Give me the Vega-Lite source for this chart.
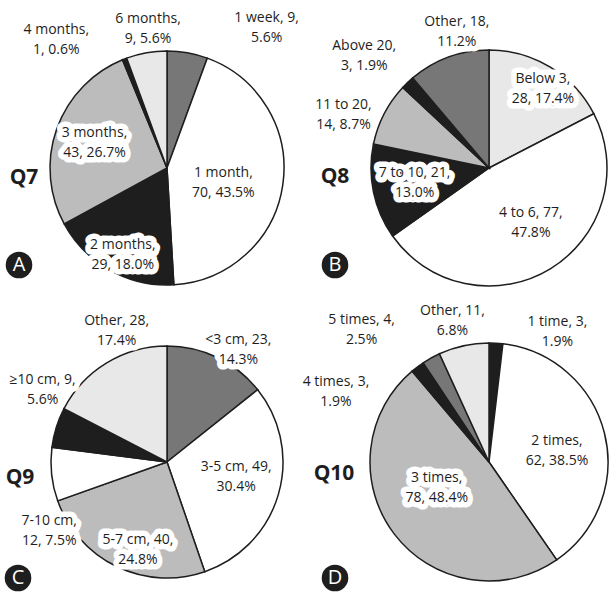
{
  "$schema": "https://vega.github.io/schema/vega-lite/v6.json",
  "padding": 0,
  "background": "white",
  "columns": 2,
  "spacing": {"row": 0, "column": 30},
  "bounds": "flush",
  "align": "each",
  "resolve": {"scale": {"fill": "independent", "theta": "independent"}},
  "config": {
    "view": {"stroke": null},
    "text": {"font": "Open Sans", "fontSize": 14, "lineHeight": 20, "align": "center", "baseline": "middle"}
  },
  "concat": [
    {
      "width": 334, "height": 336,
      "layer": [
        {
          "data": {"values": [
            {"q": "Q7", "idx": 1, "cat": "1 week", "n": 9, "pct": 5.6, "lab": ["1 week, 9,", "5.6%"]},
            {"q": "Q7", "idx": 2, "cat": "1 month", "n": 70, "pct": 43.5, "lab": ["1 month,", "70, 43.5%"]},
            {"q": "Q7", "idx": 3, "cat": "2 months", "n": 29, "pct": 18.0, "lab": ["2 months,", "29, 18.0%"]},
            {"q": "Q7", "idx": 4, "cat": "3 months", "n": 43, "pct": 26.7, "lab": ["3 months,", "43, 26.7%"]},
            {"q": "Q7", "idx": 5, "cat": "4 months", "n": 1, "pct": 0.6, "lab": ["4 months,", "1, 0.6%"]},
            {"q": "Q7", "idx": 6, "cat": "6 months", "n": 9, "pct": 5.6, "lab": ["6 months,", "9, 5.6%"]}
          ]},
          "encoding": {
            "theta": {"field": "n", "type": "quantitative", "stack": true},
            "order": {"field": "idx", "type": "quantitative"}
          },
          "layer": [
            {"mark": {"type": "arc", "outerRadius": 117, "stroke": "#1e1e1e", "strokeWidth": 1.5},
             "encoding": {"fill": {"field": "cat", "type": "nominal", "legend": null,
               "scale": {"domain": ["1 week", "1 month", "2 months", "3 months", "4 months", "6 months"],
                         "range": ["#777777", "#ffffff", "#1e1e1e", "#bcbcbc", "#1e1e1e", "#e8e8e8"]}}}},
            {"mark": {"type": "text", "radius": 175, "dx": 69, "dy": 22, "fill": "#fff", "stroke": "#fff", "strokeWidth": 11, "strokeJoin": "round"}, "encoding": {"text": {"condition": {"test": "datum.idx === 1", "field": "lab"}, "value": ""}}},
            {"mark": {"type": "text", "radius": 58, "dx": -1, "dy": -3, "fill": "#fff", "stroke": "#fff", "strokeWidth": 11, "strokeJoin": "round"}, "encoding": {"text": {"condition": {"test": "datum.idx === 2", "field": "lab"}, "value": ""}}},
            {"mark": {"type": "text", "radius": 95, "dx": 2, "dy": -6, "fill": "#fff", "stroke": "#fff", "strokeWidth": 11, "strokeJoin": "round"}, "encoding": {"text": {"condition": {"test": "datum.idx === 3", "field": "lab"}, "value": ""}}},
            {"mark": {"type": "text", "radius": 78, "dx": 1, "dy": -9, "fill": "#fff", "stroke": "#fff", "strokeWidth": 11, "strokeJoin": "round"}, "encoding": {"text": {"condition": {"test": "datum.idx === 4", "field": "lab"}, "value": ""}}},
            {"mark": {"type": "text", "radius": 60, "dx": -89, "dy": -82, "fill": "#fff", "stroke": "#fff", "strokeWidth": 11, "strokeJoin": "round"}, "encoding": {"text": {"condition": {"test": "datum.idx === 5", "field": "lab"}, "value": ""}}},
            {"mark": {"type": "text", "radius": 143, "dx": 6, "dy": -8, "fill": "#fff", "stroke": "#fff", "strokeWidth": 11, "strokeJoin": "round"}, "encoding": {"text": {"condition": {"test": "datum.idx === 6", "field": "lab"}, "value": ""}}},
            {"mark": {"type": "text", "radius": 175, "dx": 69, "dy": 22, "fill": "#1e1e1e"}, "encoding": {"text": {"condition": {"test": "datum.idx === 1", "field": "lab"}, "value": ""}}},
            {"mark": {"type": "text", "radius": 58, "dx": -1, "dy": -3, "fill": "#1e1e1e"}, "encoding": {"text": {"condition": {"test": "datum.idx === 2", "field": "lab"}, "value": ""}}},
            {"mark": {"type": "text", "radius": 95, "dx": 2, "dy": -6, "fill": "#1e1e1e"}, "encoding": {"text": {"condition": {"test": "datum.idx === 3", "field": "lab"}, "value": ""}}},
            {"mark": {"type": "text", "radius": 78, "dx": 1, "dy": -9, "fill": "#1e1e1e"}, "encoding": {"text": {"condition": {"test": "datum.idx === 4", "field": "lab"}, "value": ""}}},
            {"mark": {"type": "text", "radius": 60, "dx": -89, "dy": -82, "fill": "#1e1e1e"}, "encoding": {"text": {"condition": {"test": "datum.idx === 5", "field": "lab"}, "value": ""}}},
            {"mark": {"type": "text", "radius": 143, "dx": 6, "dy": -8, "fill": "#1e1e1e"}, "encoding": {"text": {"condition": {"test": "datum.idx === 6", "field": "lab"}, "value": ""}}},
            {"mark": {"type": "text", "dx": -143, "dy": 10, "fontSize": 21, "fontWeight": "bold", "fill": "#1e1e1e"}, "encoding": {"text": {"condition": {"test": "datum.idx === 1", "field": "q"}, "value": ""}}}
          ]
        },
        {"data": {"values": [{"panel": "A"}]}, "mark": {"type": "point", "shape": "circle", "filled": true, "size": 707, "fill": "#1e1e1e", "opacity": 1, "xOffset": -148, "yOffset": 97}, "encoding": {}},
        {"data": {"values": [{"panel": "A"}]}, "mark": {"type": "text", "dx": -148, "dy": 97, "fontSize": 20, "fill": "#ffffff"}, "encoding": {"text": {"field": "panel"}}}
      ]
    },
    {
      "width": 250, "height": 336,
      "layer": [
        {
          "data": {"values": [
            {"q": "Q8", "idx": 1, "cat": "Below 3", "n": 28, "pct": 17.4, "lab": ["Below 3,", "28, 17.4%"]},
            {"q": "Q8", "idx": 2, "cat": "4 to 6", "n": 77, "pct": 47.8, "lab": ["4 to 6, 77,", "47.8%"]},
            {"q": "Q8", "idx": 3, "cat": "7 to 10", "n": 21, "pct": 13.0, "lab": ["7 to 10, 21,", "13.0%"]},
            {"q": "Q8", "idx": 4, "cat": "11 to 20", "n": 14, "pct": 8.7, "lab": ["11 to 20,", "14, 8.7%"]},
            {"q": "Q8", "idx": 5, "cat": "Above 20", "n": 3, "pct": 1.9, "lab": ["Above 20,", "3, 1.9%"]},
            {"q": "Q8", "idx": 6, "cat": "Other", "n": 18, "pct": 11.2, "lab": ["Other, 18,", "11.2%"]}
          ]},
          "encoding": {
            "theta": {"field": "n", "type": "quantitative", "stack": true},
            "order": {"field": "idx", "type": "quantitative"}
          },
          "layer": [
            {"mark": {"type": "arc", "outerRadius": 118, "stroke": "#1e1e1e", "strokeWidth": 1.5},
             "encoding": {"fill": {"field": "cat", "type": "nominal", "legend": null,
               "scale": {"domain": ["Below 3", "4 to 6", "7 to 10", "11 to 20", "Above 20", "Other"],
                         "range": ["#e8e8e8", "#ffffff", "#1e1e1e", "#bcbcbc", "#1e1e1e", "#777777"]}}}},
            {"mark": {"type": "text", "radius": 98, "dx": 3, "dy": -5, "fill": "#fff", "stroke": "#fff", "strokeWidth": 11, "strokeJoin": "round"}, "encoding": {"text": {"condition": {"test": "datum.idx === 1", "field": "lab"}, "value": ""}}},
            {"mark": {"type": "text", "radius": 67, "dx": 7, "dy": -12, "fill": "#fff", "stroke": "#fff", "strokeWidth": 11, "strokeJoin": "round"}, "encoding": {"text": {"condition": {"test": "datum.idx === 2", "field": "lab"}, "value": ""}}},
            {"mark": {"type": "text", "radius": 75, "dx": -1, "dy": -10, "fill": "#fff", "stroke": "#fff", "strokeWidth": 11, "strokeJoin": "round"}, "encoding": {"text": {"condition": {"test": "datum.idx === 3", "field": "lab"}, "value": ""}}},
            {"mark": {"type": "text", "radius": 156, "dx": -7, "dy": 9, "fill": "#fff", "stroke": "#fff", "strokeWidth": 11, "strokeJoin": "round"}, "encoding": {"text": {"condition": {"test": "datum.idx === 4", "field": "lab"}, "value": ""}}},
            {"mark": {"type": "text", "radius": 120, "dx": -42, "dy": -35, "fill": "#fff", "stroke": "#fff", "strokeWidth": 11, "strokeJoin": "round"}, "encoding": {"text": {"condition": {"test": "datum.idx === 5", "field": "lab"}, "value": ""}}},
            {"mark": {"type": "text", "radius": 143, "dx": 17, "dy": -12, "fill": "#fff", "stroke": "#fff", "strokeWidth": 11, "strokeJoin": "round"}, "encoding": {"text": {"condition": {"test": "datum.idx === 6", "field": "lab"}, "value": ""}}},
            {"mark": {"type": "text", "radius": 98, "dx": 3, "dy": -5, "fill": "#1e1e1e"}, "encoding": {"text": {"condition": {"test": "datum.idx === 1", "field": "lab"}, "value": ""}}},
            {"mark": {"type": "text", "radius": 67, "dx": 7, "dy": -12, "fill": "#1e1e1e"}, "encoding": {"text": {"condition": {"test": "datum.idx === 2", "field": "lab"}, "value": ""}}},
            {"mark": {"type": "text", "radius": 75, "dx": -1, "dy": -10, "fill": "#1e1e1e"}, "encoding": {"text": {"condition": {"test": "datum.idx === 3", "field": "lab"}, "value": ""}}},
            {"mark": {"type": "text", "radius": 156, "dx": -7, "dy": 9, "fill": "#1e1e1e"}, "encoding": {"text": {"condition": {"test": "datum.idx === 4", "field": "lab"}, "value": ""}}},
            {"mark": {"type": "text", "radius": 120, "dx": -42, "dy": -35, "fill": "#1e1e1e"}, "encoding": {"text": {"condition": {"test": "datum.idx === 5", "field": "lab"}, "value": ""}}},
            {"mark": {"type": "text", "radius": 143, "dx": 17, "dy": -12, "fill": "#1e1e1e"}, "encoding": {"text": {"condition": {"test": "datum.idx === 6", "field": "lab"}, "value": ""}}},
            {"mark": {"type": "text", "dx": -154, "dy": 9, "fontSize": 21, "fontWeight": "bold", "fill": "#1e1e1e"}, "encoding": {"text": {"condition": {"test": "datum.idx === 1", "field": "q"}, "value": ""}}}
          ]
        },
        {"data": {"values": [{"panel": "B"}]}, "mark": {"type": "point", "shape": "circle", "filled": true, "size": 707, "fill": "#1e1e1e", "opacity": 1, "xOffset": -154, "yOffset": 97}, "encoding": {}},
        {"data": {"values": [{"panel": "B"}]}, "mark": {"type": "text", "dx": -154, "dy": 97, "fontSize": 20, "fill": "#ffffff"}, "encoding": {"text": {"field": "panel"}}}
      ]
    },
    {
      "width": 334, "height": 252,
      "layer": [
        {
          "data": {"values": [
            {"q": "Q9", "idx": 1, "cat": "<3 cm", "n": 23, "pct": 14.3, "lab": ["<3 cm, 23,", "14.3%"]},
            {"q": "Q9", "idx": 2, "cat": "3-5 cm", "n": 49, "pct": 30.4, "lab": ["3-5 cm, 49,", "30.4%"]},
            {"q": "Q9", "idx": 3, "cat": "5-7 cm", "n": 40, "pct": 24.8, "lab": ["5-7 cm, 40,", "24.8%"]},
            {"q": "Q9", "idx": 4, "cat": "7-10 cm", "n": 12, "pct": 7.5, "lab": ["7-10 cm,", "12, 7.5%"]},
            {"q": "Q9", "idx": 5, "cat": "≥10 cm", "n": 9, "pct": 5.6, "lab": ["≥10 cm, 9,", "5.6%"]},
            {"q": "Q9", "idx": 6, "cat": "Other", "n": 28, "pct": 17.4, "lab": ["Other, 28,", "17.4%"]}
          ]},
          "encoding": {
            "theta": {"field": "n", "type": "quantitative", "stack": true},
            "order": {"field": "idx", "type": "quantitative"}
          },
          "layer": [
            {"mark": {"type": "arc", "outerRadius": 116, "stroke": "#1e1e1e", "strokeWidth": 1.5},
             "encoding": {"fill": {"field": "cat", "type": "nominal", "legend": null,
               "scale": {"domain": ["<3 cm", "3-5 cm", "5-7 cm", "7-10 cm", "≥10 cm", "Other"],
                         "range": ["#777777", "#ffffff", "#bcbcbc", "#ffffff", "#1e1e1e", "#e8e8e8"]}}}},
            {"mark": {"type": "text", "radius": 100, "dx": 28, "dy": -32, "fill": "#fff", "stroke": "#fff", "strokeWidth": 11, "strokeJoin": "round"}, "encoding": {"text": {"condition": {"test": "datum.idx === 1", "field": "lab"}, "value": ""}}},
            {"mark": {"type": "text", "radius": 70, "dx": 2, "dy": -15, "fill": "#fff", "stroke": "#fff", "strokeWidth": 11, "strokeJoin": "round"}, "encoding": {"text": {"condition": {"test": "datum.idx === 2", "field": "lab"}, "value": ""}}},
            {"mark": {"type": "text", "radius": 90, "dx": 10, "dy": -3, "fill": "#fff", "stroke": "#fff", "strokeWidth": 11, "strokeJoin": "round"}, "encoding": {"text": {"condition": {"test": "datum.idx === 3", "field": "lab"}, "value": ""}}},
            {"mark": {"type": "text", "radius": 40, "dx": -78, "dy": 55, "fill": "#fff", "stroke": "#fff", "strokeWidth": 11, "strokeJoin": "round"}, "encoding": {"text": {"condition": {"test": "datum.idx === 4", "field": "lab"}, "value": ""}}},
            {"mark": {"type": "text", "radius": 145, "dx": 14, "dy": -39, "fill": "#fff", "stroke": "#fff", "strokeWidth": 11, "strokeJoin": "round"}, "encoding": {"text": {"condition": {"test": "datum.idx === 5", "field": "lab"}, "value": ""}}},
            {"mark": {"type": "text", "radius": 143, "dx": 24, "dy": -19, "fill": "#fff", "stroke": "#fff", "strokeWidth": 11, "strokeJoin": "round"}, "encoding": {"text": {"condition": {"test": "datum.idx === 6", "field": "lab"}, "value": ""}}},
            {"mark": {"type": "text", "radius": 100, "dx": 28, "dy": -32, "fill": "#1e1e1e"}, "encoding": {"text": {"condition": {"test": "datum.idx === 1", "field": "lab"}, "value": ""}}},
            {"mark": {"type": "text", "radius": 70, "dx": 2, "dy": -15, "fill": "#1e1e1e"}, "encoding": {"text": {"condition": {"test": "datum.idx === 2", "field": "lab"}, "value": ""}}},
            {"mark": {"type": "text", "radius": 90, "dx": 10, "dy": -3, "fill": "#1e1e1e"}, "encoding": {"text": {"condition": {"test": "datum.idx === 3", "field": "lab"}, "value": ""}}},
            {"mark": {"type": "text", "radius": 40, "dx": -78, "dy": 55, "fill": "#1e1e1e"}, "encoding": {"text": {"condition": {"test": "datum.idx === 4", "field": "lab"}, "value": ""}}},
            {"mark": {"type": "text", "radius": 145, "dx": 14, "dy": -39, "fill": "#1e1e1e"}, "encoding": {"text": {"condition": {"test": "datum.idx === 5", "field": "lab"}, "value": ""}}},
            {"mark": {"type": "text", "radius": 143, "dx": 24, "dy": -19, "fill": "#1e1e1e"}, "encoding": {"text": {"condition": {"test": "datum.idx === 6", "field": "lab"}, "value": ""}}},
            {"mark": {"type": "text", "dx": -147, "dy": 16, "fontSize": 21, "fontWeight": "bold", "fill": "#1e1e1e"}, "encoding": {"text": {"condition": {"test": "datum.idx === 1", "field": "q"}, "value": ""}}}
          ]
        },
        {"data": {"values": [{"panel": "C"}]}, "mark": {"type": "point", "shape": "circle", "filled": true, "size": 707, "fill": "#1e1e1e", "opacity": 1, "xOffset": -149, "yOffset": 116}, "encoding": {}},
        {"data": {"values": [{"panel": "C"}]}, "mark": {"type": "text", "dx": -149, "dy": 116, "fontSize": 20, "fill": "#ffffff"}, "encoding": {"text": {"field": "panel"}}}
      ]
    },
    {
      "width": 250, "height": 252,
      "layer": [
        {
          "data": {"values": [
            {"q": "Q10", "idx": 1, "cat": "1 time", "n": 3, "pct": 1.9, "lab": ["1 time, 3,", "1.9%"]},
            {"q": "Q10", "idx": 2, "cat": "2 times", "n": 62, "pct": 38.5, "lab": ["2 times,", "62, 38.5%"]},
            {"q": "Q10", "idx": 3, "cat": "3 times", "n": 78, "pct": 48.4, "lab": ["3 times,", "78, 48.4%"]},
            {"q": "Q10", "idx": 4, "cat": "4 times", "n": 3, "pct": 1.9, "lab": ["4 times, 3,", "1.9%"]},
            {"q": "Q10", "idx": 5, "cat": "5 times", "n": 4, "pct": 2.5, "lab": ["5 times, 4,", "2.5%"]},
            {"q": "Q10", "idx": 6, "cat": "Other", "n": 11, "pct": 6.8, "lab": ["Other, 11,", "6.8%"]}
          ]},
          "encoding": {
            "theta": {"field": "n", "type": "quantitative", "stack": true},
            "order": {"field": "idx", "type": "quantitative"}
          },
          "layer": [
            {"mark": {"type": "arc", "outerRadius": 119, "stroke": "#1e1e1e", "strokeWidth": 1.5},
             "encoding": {"fill": {"field": "cat", "type": "nominal", "legend": null,
               "scale": {"domain": ["1 time", "2 times", "3 times", "4 times", "5 times", "Other"],
                         "range": ["#1e1e1e", "#ffffff", "#bcbcbc", "#1e1e1e", "#777777", "#e8e8e8"]}}}},
            {"mark": {"type": "text", "radius": 40, "dx": 66, "dy": -100, "fill": "#fff", "stroke": "#fff", "strokeWidth": 11, "strokeJoin": "round"}, "encoding": {"text": {"condition": {"test": "datum.idx === 1", "field": "lab"}, "value": ""}}},
            {"mark": {"type": "text", "radius": 69, "dx": 1, "dy": -4, "fill": "#fff", "stroke": "#fff", "strokeWidth": 11, "strokeJoin": "round"}, "encoding": {"text": {"condition": {"test": "datum.idx === 2", "field": "lab"}, "value": ""}}},
            {"mark": {"type": "text", "radius": 57, "dx": -7, "dy": -19, "fill": "#fff", "stroke": "#fff", "strokeWidth": 11, "strokeJoin": "round"}, "encoding": {"text": {"condition": {"test": "datum.idx === 3", "field": "lab"}, "value": ""}}},
            {"mark": {"type": "text", "radius": 40, "dx": -129, "dy": -48, "fill": "#fff", "stroke": "#fff", "strokeWidth": 11, "strokeJoin": "round"}, "encoding": {"text": {"condition": {"test": "datum.idx === 4", "field": "lab"}, "value": ""}}},
            {"mark": {"type": "text", "radius": 40, "dx": -108, "dy": -107, "fill": "#fff", "stroke": "#fff", "strokeWidth": 11, "strokeJoin": "round"}, "encoding": {"text": {"condition": {"test": "datum.idx === 5", "field": "lab"}, "value": ""}}},
            {"mark": {"type": "text", "radius": 40, "dx": -28, "dy": -112, "fill": "#fff", "stroke": "#fff", "strokeWidth": 11, "strokeJoin": "round"}, "encoding": {"text": {"condition": {"test": "datum.idx === 6", "field": "lab"}, "value": ""}}},
            {"mark": {"type": "text", "radius": 40, "dx": 66, "dy": -100, "fill": "#1e1e1e"}, "encoding": {"text": {"condition": {"test": "datum.idx === 1", "field": "lab"}, "value": ""}}},
            {"mark": {"type": "text", "radius": 69, "dx": 1, "dy": -4, "fill": "#1e1e1e"}, "encoding": {"text": {"condition": {"test": "datum.idx === 2", "field": "lab"}, "value": ""}}},
            {"mark": {"type": "text", "radius": 57, "dx": -7, "dy": -19, "fill": "#1e1e1e"}, "encoding": {"text": {"condition": {"test": "datum.idx === 3", "field": "lab"}, "value": ""}}},
            {"mark": {"type": "text", "radius": 40, "dx": -129, "dy": -48, "fill": "#1e1e1e"}, "encoding": {"text": {"condition": {"test": "datum.idx === 4", "field": "lab"}, "value": ""}}},
            {"mark": {"type": "text", "radius": 40, "dx": -108, "dy": -107, "fill": "#1e1e1e"}, "encoding": {"text": {"condition": {"test": "datum.idx === 5", "field": "lab"}, "value": ""}}},
            {"mark": {"type": "text", "radius": 40, "dx": -28, "dy": -112, "fill": "#1e1e1e"}, "encoding": {"text": {"condition": {"test": "datum.idx === 6", "field": "lab"}, "value": ""}}},
            {"mark": {"type": "text", "dx": -155, "dy": 12, "fontSize": 21, "fontWeight": "bold", "fill": "#1e1e1e"}, "encoding": {"text": {"condition": {"test": "datum.idx === 1", "field": "q"}, "value": ""}}}
          ]
        },
        {"data": {"values": [{"panel": "D"}]}, "mark": {"type": "point", "shape": "circle", "filled": true, "size": 707, "fill": "#1e1e1e", "opacity": 1, "xOffset": -154, "yOffset": 116}, "encoding": {}},
        {"data": {"values": [{"panel": "D"}]}, "mark": {"type": "text", "dx": -154, "dy": 116, "fontSize": 20, "fill": "#ffffff"}, "encoding": {"text": {"field": "panel"}}}
      ]
    }
  ]
}
